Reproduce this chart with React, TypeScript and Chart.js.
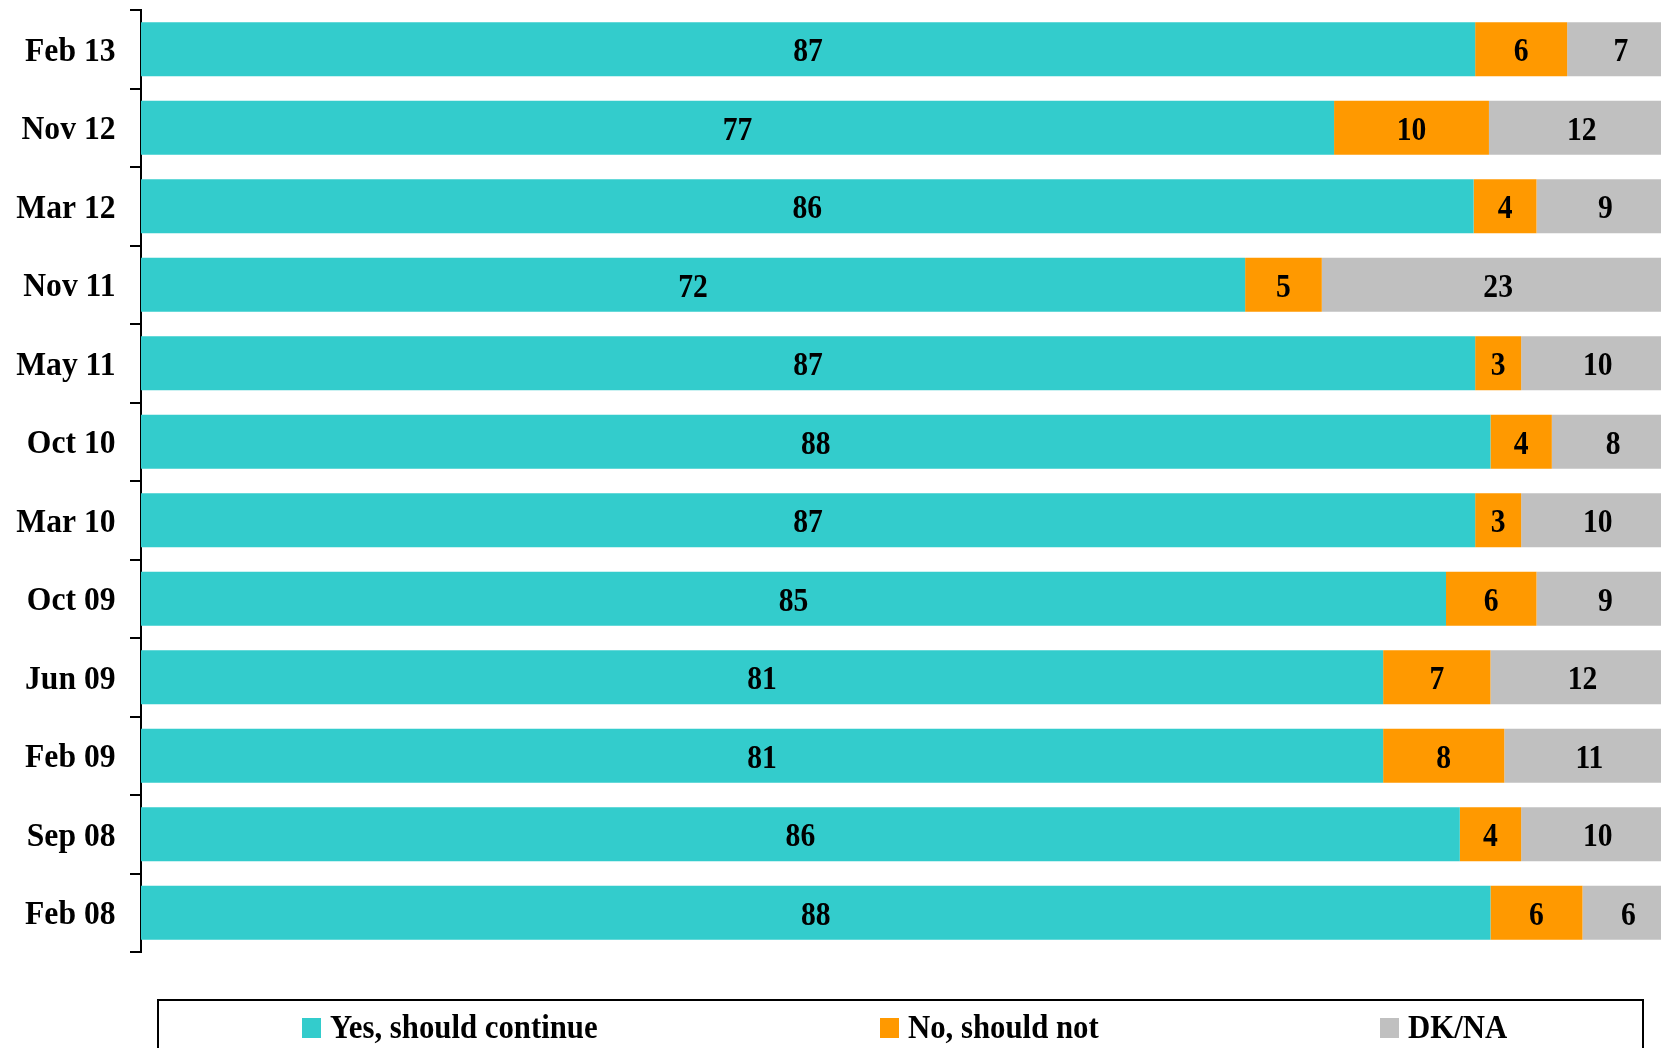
import React, { useEffect, useRef } from "react";
import { Chart, registerables } from "chart.js";

Chart.register(...registerables);

const categories = ["Feb 13", "Nov 12", "Mar 12", "Nov 11", "May 11", "Oct 10", "Mar 10", "Oct 09", "Jun 09", "Feb 09", "Sep 08", "Feb 08"];
const yesValues = [87, 77.8, 86.9, 72, 87, 88, 87, 85.1, 81, 81, 86, 88];
const noValues = [6, 10.1, 4.1, 5, 3, 4, 3, 5.9, 7, 7.9, 4, 6];
const dkValues = [7, 12.1, 9, 23, 10, 8, 10, 9, 12, 11.1, 10, 6];
const yesLabels = [87, 77, 86, 72, 87, 88, 87, 85, 81, 81, 86, 88];
const noLabels = [6, 10, 4, 5, 3, 4, 3, 6, 7, 8, 4, 6];
const dkLabels = [7, 12, 9, 23, 10, 8, 10, 9, 12, 11, 10, 6];
const seriesNames = ["Yes, should continue", "No, should not", "DK/NA"];
const seriesColors = ["#33CCCC", "#FF9900", "#C0C0C0"];
const seriesLabels = [yesLabels, noLabels, dkLabels];

const FONT = "'Liberation Serif', 'Times New Roman', serif";

function condensedText(ctx: any, text: string, x: number, y: number, sx: number, align: string) {
  ctx.save();
  ctx.translate(x, y);
  ctx.scale(sx, 1);
  ctx.textAlign = align;
  ctx.textBaseline = "alphabetic";
  ctx.fillText(text, 0, 0);
  ctx.restore();
}

const dataLabelPlugin = {
  id: "dataLabels",
  afterDatasetsDraw(chart: any) {
    const ctx = chart.ctx;
    ctx.save();
    ctx.font = `bold 34px ${FONT}`;
    ctx.fillStyle = "#000";
    chart.data.datasets.forEach((ds: any, di: number) => {
      const meta = chart.getDatasetMeta(di);
      meta.data.forEach((el: any, i: number) => {
        const cx = (el.x + el.base) / 2;
        condensedText(ctx, String(ds.labelsText[i]), cx, el.y + 12, 0.87, "center");
      });
    });
    ctx.restore();
  },
};

const categoryLabelPlugin = {
  id: "categoryLabels",
  afterDraw(chart: any) {
    const ctx = chart.ctx;
    const yScale = chart.scales.y;
    ctx.save();
    ctx.font = `bold 34px ${FONT}`;
    ctx.fillStyle = "#000";
    chart.data.labels.forEach((lab: string, i: number) => {
      const y = yScale.getPixelForTick(i);
      condensedText(ctx, lab, 115.5, y + 11.5, 0.93, "right");
    });
    ctx.restore();
  },
};

const legendPlugin = {
  id: "boxLegend",
  afterDraw(chart: any) {
    const ctx = chart.ctx;
    ctx.save();
    ctx.strokeStyle = "#000";
    ctx.lineWidth = 2;
    ctx.strokeRect(158, 1000, 1485, 80);
    const starts = [302, 880, 1380];
    ctx.font = `bold 34px ${FONT}`;
    chart.data.datasets.forEach((ds: any, i: number) => {
      const x = starts[i];
      ctx.fillStyle = ds.backgroundColor;
      ctx.fillRect(x, 1018, 19, 20);
      ctx.fillStyle = "#000";
      condensedText(ctx, ds.label, x + 28, 1037.5, 0.905, "left");
    });
    ctx.restore();
  },
};

export default function App() {
  const ref = useRef<HTMLCanvasElement>(null);
  useEffect(() => {
    if (!ref.current) return;
    const chart = new Chart(ref.current, {
      type: "bar",
      data: {
        labels: categories,
        datasets: [yesValues, noValues, dkValues].map((vals, i) => ({
          label: seriesNames[i],
          data: vals,
          backgroundColor: seriesColors[i],
          borderWidth: 0,
          barPercentage: 0.688,
          categoryPercentage: 1,
          labelsText: seriesLabels[i],
        })) as any,
      },
      options: {
        indexAxis: "y",
        animation: false,
        responsive: false,
        devicePixelRatio: 1,
        layout: { padding: { top: 10, bottom: 96, left: 0, right: 5.5 } },
        plugins: { legend: { display: false }, tooltip: { enabled: false } },
        scales: {
          x: { display: false, stacked: true, min: 0, max: 100 },
          y: {
            stacked: true,
            afterFit: (s: any) => {
              s.width = 141;
              s.paddingTop = 0;
              s.paddingBottom = 0;
            },
            border: { display: true, color: "#000", width: 2 },
            grid: {
              display: true,
              offset: true,
              drawOnChartArea: false,
              drawTicks: true,
              tickLength: 11,
              color: "#000",
              lineWidth: 2,
            },
            ticks: {
              color: "rgba(0,0,0,0)",
              padding: 14,
              font: { family: FONT, size: 31, weight: "bold" },
            },
          },
        },
      } as any,
      plugins: [dataLabelPlugin, categoryLabelPlugin, legendPlugin],
    });
    return () => chart.destroy();
  }, []);
  return (
    <div style={{ position: "fixed", left: 0, top: 0, width: 1661, height: 1048, overflow: "hidden", background: "#fff" }}>
      <canvas ref={ref} width={1680} height={1048} style={{ width: 1680, height: 1048, display: "block" }} />
    </div>
  );
}
